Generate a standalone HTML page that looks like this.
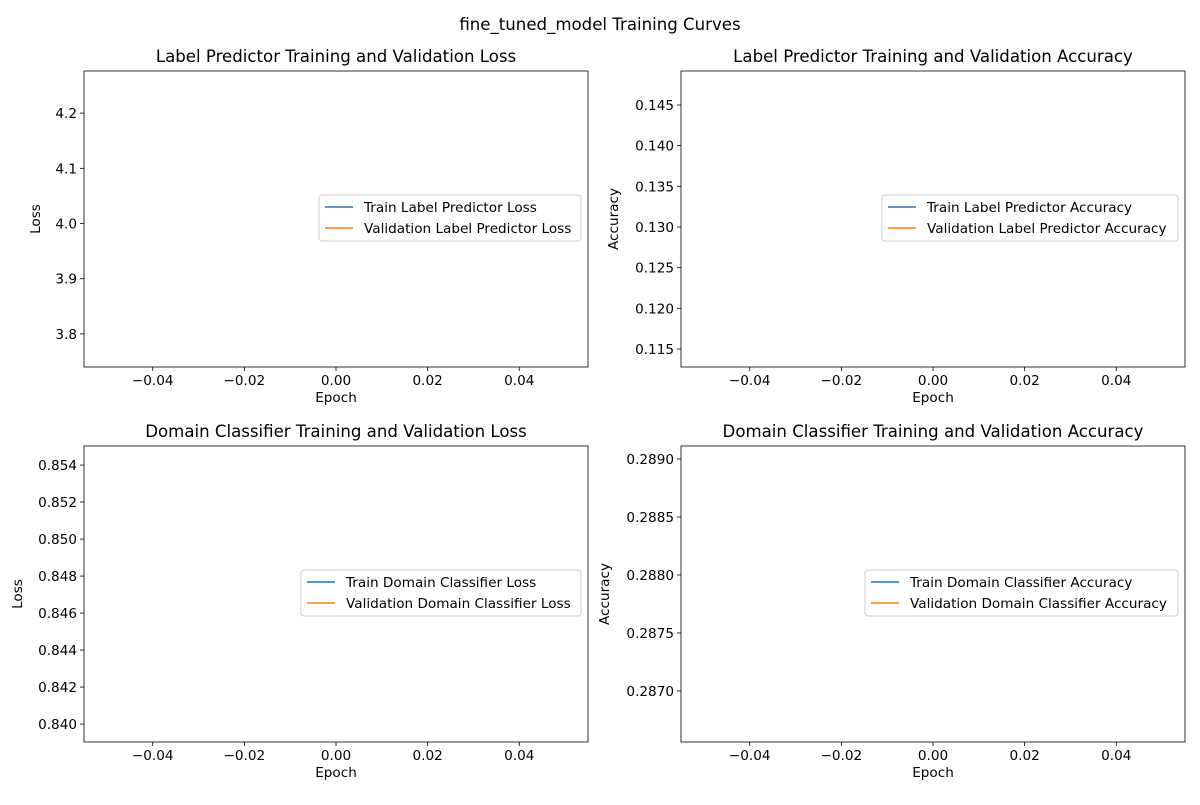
<!DOCTYPE html>
<html><head><meta charset="utf-8"><style>
body{margin:0;background:#fff}
svg text{font-family:"DejaVu Sans","Liberation Sans",sans-serif;fill:#000}
</style></head><body>
<svg id="fig" width="1200" height="800" xmlns="http://www.w3.org/2000/svg">
<rect width="1200" height="800" fill="#fff"/>
<text x="600" y="30" font-size="16.6" text-anchor="middle">fine_tuned_model Training Curves</text>
</svg>
<script>
const epochs=[0];
const trainLabelLoss=[4.008];
const valLabelLoss=[4.008];
const trainLabelAcc=[0.131];
const valLabelAcc=[0.131];
const trainDomLoss=[0.847];
const valDomLoss=[0.847];
const trainDomAcc=[0.28784];
const valDomAcc=[0.28784];
const xTicks=[-0.04,-0.02,0,0.02,0.04];
const ticksLL=[3.8,3.9,4.0,4.1,4.2];
const ticksLA=[0.115,0.120,0.125,0.130,0.135,0.140,0.145];
const ticksDL=[0.840,0.842,0.844,0.846,0.848,0.850,0.852,0.854];
const ticksDA=[0.2870,0.2875,0.2880,0.2885,0.2890];
const NS='http://www.w3.org/2000/svg';
const svg=document.getElementById('fig');
const FS=13.6;
function mk(tag,attrs,parent){const e=document.createElementNS(NS,tag);for(const k in attrs)e.setAttribute(k,attrs[k]);(parent||svg).appendChild(e);return e;}
const panels=[
 {x:84,y:71,title:'Label Predictor Training and Validation Loss',ylab:'Loss',yd:[3.740,4.2764],ticks:ticksLL,dec:1,tr:trainLabelLoss,va:valLabelLoss,l1:'Train Label Predictor Loss',l2:'Validation Label Predictor Loss',lx:319,lw:262,ylx:40,name:'label-loss'},
 {x:681,y:71,title:'Label Predictor Training and Validation Accuracy',ylab:'Accuracy',yd:[0.11279,0.14918],ticks:ticksLA,dec:3,tr:trainLabelAcc,va:valLabelAcc,l1:'Train Label Predictor Accuracy',l2:'Validation Label Predictor Accuracy',lx:882,lw:296,ylx:618,name:'label-accuracy'},
 {x:84,y:446,title:'Domain Classifier Training and Validation Loss',ylab:'Loss',yd:[0.83903,0.85503],ticks:ticksDL,dec:3,tr:trainDomLoss,va:valDomLoss,l1:'Train Domain Classifier Loss',l2:'Validation Domain Classifier Loss',lx:301,lw:280,ylx:22,name:'domain-loss'},
 {x:681,y:446,title:'Domain Classifier Training and Validation Accuracy',ylab:'Accuracy',yd:[0.28656,0.289112],ticks:ticksDA,dec:4,tr:trainDomAcc,va:valDomAcc,l1:'Train Domain Classifier Accuracy',l2:'Validation Domain Classifier Accuracy',lx:865,lw:313,ylx:609,name:'domain-accuracy'}
];
const W=504,H=296,xd=[-0.055,0.055];
panels.forEach(p=>{
 const g=mk('g',{});
 
 
 const sx=v=>p.x+(v-xd[0])/(xd[1]-xd[0])*W;
 const sy=v=>p.y+H-(v-p.yd[0])/(p.yd[1]-p.yd[0])*H;
 const t=mk('text',{x:p.x+W/2,y:p.y-9,'font-size':16.6,'text-anchor':'middle'},g);t.textContent=p.title;
 
 xTicks.forEach(v=>{const X=sx(v);mk('line',{x1:X,x2:X,y1:p.y+H,y2:p.y+H+4,stroke:'#000','stroke-width':0.8},g);
  const tt=mk('text',{x:X,y:p.y+H+18,'font-size':FS,'text-anchor':'middle'},g);tt.textContent=(v<0?'\u2212':'')+Math.abs(v).toFixed(2);
  });
 p.ticks.forEach(v=>{const Y=sy(v);mk('line',{x1:p.x-4,x2:p.x,y1:Y,y2:Y,stroke:'#000','stroke-width':0.8},g);
  const tt=mk('text',{x:p.x-7,y:Y+5,'font-size':FS,'text-anchor':'end'},g);tt.textContent=v.toFixed(p.dec);
  });
 const xl=mk('text',{x:p.x+W/2,y:p.y+H+35,'font-size':FS,'text-anchor':'middle'},g);xl.textContent='Epoch';
 
 const cy=p.y+H/2;
 const yl=mk('text',{x:p.ylx,y:cy,'font-size':FS,'text-anchor':'middle',transform:`rotate(-90 ${p.ylx} ${cy})`},g);yl.textContent=p.ylab;
 
 [[p.tr,'#1f77b4','train'],[p.va,'#ff7f0e','validation']].forEach(([arr,c,n])=>{
  const pts=epochs.map((e,i)=>sx(e)+','+sy(arr[i])).join(' ');
  const pl=mk('polyline',{points:pts,fill:'none',stroke:c,'stroke-width':1.5},g);
  });
 const fr=mk('rect',{x:p.x,y:p.y,width:W,height:H,fill:'none',stroke:'#000','stroke-width':0.8},g);
 
 const ly=cy-24;
 const lg=mk('g',{},g);
 mk('rect',{x:p.lx,y:ly,width:p.lw,height:46,rx:3,fill:'#fff','fill-opacity':0.8,stroke:'#ccc','stroke-width':1},lg);
 [[p.l1,'#1f77b4',ly+12],[p.l2,'#ff7f0e',ly+33]].forEach(([s,c,yy])=>{
  const e=mk('g',{},lg);
  mk('line',{x1:p.lx+6,x2:p.lx+34,y1:yy,y2:yy,stroke:c,'stroke-width':1.5},e);
  const lt=mk('text',{x:p.lx+45,y:yy+5,'font-size':FS},e);lt.textContent=s;});
});
</script>
</body></html>
